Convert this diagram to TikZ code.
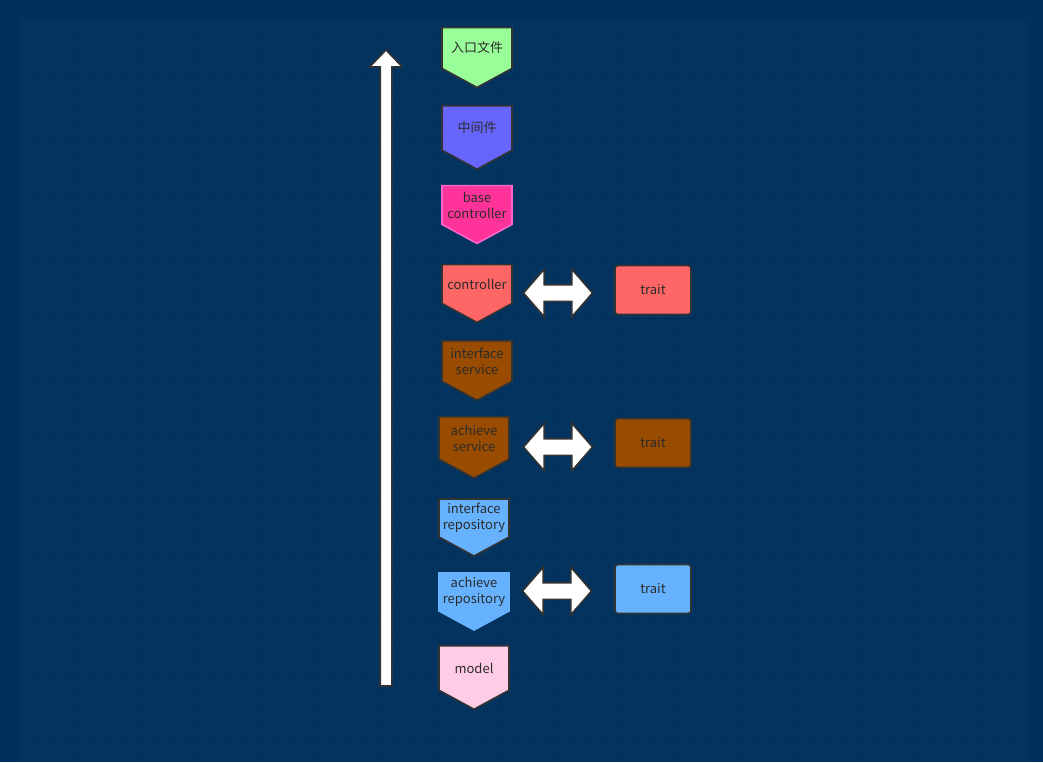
\documentclass[tikz,border=0pt]{standalone}
\usepackage{fontspec}
\setmainfont{Noto Sans CJK SC}
\usetikzlibrary{shapes.symbols,shapes.arrows}
\definecolor{bgout}{HTML}{01305E}
\definecolor{bgin}{HTML}{03335F}
\definecolor{gridminor}{HTML}{05305B}
\definecolor{gridmajor}{HTML}{042E58}
\definecolor{edge}{HTML}{333333}
\definecolor{ink}{HTML}{2B2B2B}
\definecolor{cEntry}{HTML}{99FF99}
\definecolor{cMid}{HTML}{6666FF}
\definecolor{cBase}{HTML}{FF3399}
\definecolor{cBaseEdge}{HTML}{FF66CC}
\definecolor{cCtl}{HTML}{FF6666}
\definecolor{cSvc}{HTML}{994C00}
\definecolor{cRepo}{HTML}{66B2FF}
\definecolor{cModel}{HTML}{FFCCE6}
\tikzset{
	layer/.style={signal, signal to=south, signal pointer angle=123,
		draw=edge, line width=1.6pt, minimum width=70pt, minimum height=55pt,
		inner sep=0pt, text=ink, align=center,
		font=\fontsize{13}{16}\selectfont},
	traitbox/.style={rectangle, rounded corners=3pt, draw=edge, line width=1.6pt,
		minimum width=76pt, minimum height=49pt, text=ink,
		font=\fontsize{13}{16}\selectfont},
	twoway/.style={double arrow, draw=edge, fill=white, line width=1.6pt,
		minimum height=69pt, minimum width=46pt, inner sep=7.5pt,
		double arrow head extend=15.5pt, double arrow tip angle=98},
	uparrow/.style={single arrow, draw=edge, fill=white, line width=1.6pt,
		minimum height=636pt, minimum width=31pt, inner sep=5pt,
		single arrow head extend=10.5pt, single arrow tip angle=88, rotate=90}
}
\begin{document}
\begin{tikzpicture}[x=1pt,y=-1pt]
	\fill[bgout] (0,0) rectangle (1043,762);
	\fill[bgin] (19,18) rectangle (1028,762);
	\foreach \x in {19,34,...,1028} {\draw[gridminor,line width=0.8pt] (\x,18) -- (\x,762);}
	\foreach \y in {18,33,...,762} {\draw[gridminor,line width=0.8pt] (19,\y) -- (1028,\y);}
	\foreach \x in {19,79,...,1028} {\draw[gridmajor,line width=1pt] (\x,18) -- (\x,762);}
	\foreach \y in {18,78,...,762} {\draw[gridmajor,line width=1pt] (19,\y) -- (1028,\y);}
	\useasboundingbox (0,0) rectangle (1043,762);
	% up arrow
	\node[uparrow] (up) at (386,371) {};
	% layers
	\foreach \n/\x/\y/\c/\t in {entry/477/48/cEntry/入口文件, mid/477/128/cMid/中间件,
		ctl/477/284/cCtl/controller, isvc/477/361/cSvc/{interface\\service},
		asvc/474/438/cSvc/{achieve\\service}, irepo/474/518/cRepo/{interface\\repository},
		model/474/668/cModel/model}
		{\node[layer, fill=\c] (\n) at (\x,\y) {\t};}
	\node[layer, fill=cBase, draw=cBaseEdge] (base) at (477,205) {base\\controller};
	\node[layer, fill=cRepo, draw=cRepo] (arepo) at (474,592) {achieve\\repository};
	% traits
	\node[traitbox, fill=cCtl] (t1) at (653,290) {trait};
	\node[traitbox, fill=cSvc] (t2) at (653,443) {trait};
	\node[traitbox, fill=cRepo] (t3) at (653,589) {trait};
	\node[twoway] (a1) at (558,293) {};
	\node[twoway] (a2) at (558,447) {};
	\node[twoway] (a3) at (557,591) {};
\end{tikzpicture}
\end{document}
